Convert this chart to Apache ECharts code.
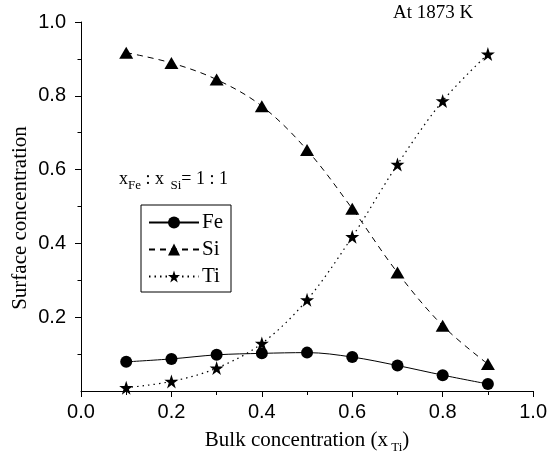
<!DOCTYPE html>
<html><head><meta charset="utf-8">
<script src="https://cdn.jsdelivr.net/npm/echarts@6/dist/echarts.min.js"></script>
<style>html,body{margin:0;padding:0;background:#fff}#c{width:550px;height:459px}</style>
</head><body><div id="c"></div>
<script>
const bulkX = [0.1, 0.2, 0.3, 0.4, 0.5, 0.6, 0.7, 0.8, 0.9];
const feVals = [0.079, 0.087, 0.098, 0.102, 0.104, 0.092, 0.069, 0.043, 0.019];
const siVals = [0.917, 0.889, 0.844, 0.772, 0.653, 0.494, 0.321, 0.177, 0.073];
const tiVals = [0.009, 0.026, 0.062, 0.129, 0.247, 0.418, 0.614, 0.786, 0.913];
const yMajor = [0.2, 0.4, 0.6, 0.8, 1.0];
const yMinor = [0.1, 0.3, 0.5, 0.7, 0.9];

const STAR = 'path://M50,0 L61.8,35.3 L98.9,35.3 L68.9,57.2 L80.3,92.7 L50,70.9 L19.7,92.7 L31.1,57.2 L1.1,35.3 L38.2,35.3 Z';
const serif = '"Liberation Serif", "Times New Roman", serif';
const sans = '"Liberation Sans", Arial, sans-serif';
const pair = a => bulkX.map((x, i) => [x, a[i]]);

const chart = echarts.init(document.getElementById('c'));
chart.setOption({
  animation: false,
  grid: { left: 81, right: 15, top: 22, bottom: 68 },
  xAxis: {
    type: 'value', min: 0, max: 1, interval: 0.2,
    axisLine: { lineStyle: { color: '#000', width: 1 } },
    axisTick: { show: true, length: 6, lineStyle: { color: '#000' } },
    minorTick: { show: true, splitNumber: 2, length: 4, lineStyle: { color: '#000' } },
    splitLine: { show: false },
    axisLabel: { color: '#000', fontFamily: sans, fontSize: 20, margin: 11, formatter: v => v.toFixed(1) },
    name: '{a|Bulk concentration (x}{s| Ti}{a|)}',
    nameLocation: 'middle', nameGap: 36,
    nameTextStyle: {
      rich: {
        a: { fontFamily: serif, fontSize: 21, color: '#000', lineHeight: 24 },
        s: { fontFamily: serif, fontSize: 13, color: '#000', padding: [14, 0, 0, 0] }
      }
    }
  },
  yAxis: [{
    type: 'value', min: 0, max: 1, interval: 0.2,
    axisLine: { show: true, lineStyle: { color: '#000', width: 1 } },
    axisTick: { show: true, length: 6, customValues: yMajor, lineStyle: { color: '#000' } },
    splitLine: { show: false },
    axisLabel: { color: '#000', fontFamily: sans, fontSize: 20, margin: 15, customValues: yMajor, formatter: v => v.toFixed(1) }
  }, {
    type: 'value', min: 0, max: 1, interval: 0.2, position: 'left',
    axisLine: { show: false },
    axisTick: { show: true, length: 3.5, customValues: yMinor, lineStyle: { color: '#000' } },
    axisLabel: { show: false },
    splitLine: { show: false }
  }],
  legend: {
    orient: 'vertical', left: 141, top: 205,
    padding: [7, 8, 5, 7], itemGap: 6, itemWidth: 50, itemHeight: 15,
    borderColor: '#000', borderWidth: 1,
    textStyle: { fontFamily: serif, fontSize: 21, lineHeight: 21, color: '#000', padding: [0, 0, 0, -2] },
    data: ['Fe', 'Si', 'Ti']
  },
  graphic: [{
    type: 'text', left: 393, top: 4,
    style: { text: 'At 1873 K', font: '19px ' + serif, fill: '#000' }
  }, {
    type: 'text', x: 20, y: 218, rotation: Math.PI / 2,
    style: { text: 'Surface concentration', font: '21px ' + serif, fill: '#000', align: 'center', verticalAlign: 'middle' }
  }, {
    type: 'text', left: 119, top: 170,
    style: {
      text: '{a|x}{s|Fe}{a| : x}{s|  Si}{a|= 1 : 1}',
      rich: {
        a: { fontFamily: serif, fontSize: 18, fill: '#000', lineHeight: 22 },
        s: { fontFamily: serif, fontSize: 13, fill: '#000', padding: [14, 0, 0, 0] }
      }
    }
  }],
  series: [{
    name: 'Fe', type: 'line', data: pair(feVals), smooth: 0.35,
    symbol: 'circle', symbolSize: 12,
    itemStyle: { color: '#000' }, lineStyle: { color: '#000', width: 1, type: 'solid' }
  }, {
    name: 'Si', type: 'line', data: pair(siVals), smooth: 0.35,
    symbol: 'triangle', symbolSize: [14, 12],
    itemStyle: { color: '#000' }, lineStyle: { color: '#000', width: 1, type: [6, 5] }
  }, {
    name: 'Ti', type: 'line', data: pair(tiVals), smooth: 0.35, clip: false,
    symbol: STAR, symbolSize: 14,
    itemStyle: { color: '#000' }, lineStyle: { color: '#000', width: 1.2, type: [1.5, 4] }
  }]
});
</script></body></html>
